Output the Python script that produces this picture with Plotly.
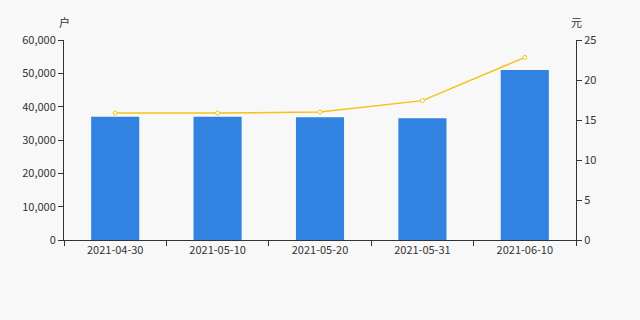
import plotly.graph_objects as go

dates = ["2021-04-30", "2021-05-10", "2021-05-20", "2021-05-31", "2021-06-10"]
holders = [37000, 36950, 36800, 36500, 51000]
price = [15.87, 15.87, 16.0, 17.42, 22.83]

bar_color = "#3282e2"
line_color = "#f5c216"
axis_color = "#333333"
bg = "#f8f8f8"
fam = "Noto Sans CJK SC"

fig = go.Figure()
fig.add_trace(go.Bar(x=dates, y=holders, marker=dict(color=bar_color, line_width=0),
                     width=0.47, yaxis="y", showlegend=False))
fig.add_trace(go.Scatter(x=dates, y=price, yaxis="y2", mode="lines+markers",
                         line=dict(color=line_color, width=1.5),
                         marker=dict(symbol="circle", size=4, color="white",
                                     line=dict(color=line_color, width=1)),
                         showlegend=False))

tf = dict(size=11, color=axis_color, family=fam)
fig.update_layout(
    width=640, height=320,
    margin=dict(l=64, r=64, t=40, b=80),
    paper_bgcolor=bg, plot_bgcolor=bg,
    font=dict(family=fam, size=11, color=axis_color),
    xaxis=dict(type="category", showline=True, linecolor=axis_color, linewidth=1,
               ticks="outside", tickson="boundaries", ticklen=5, tickcolor=axis_color,
               showgrid=False, zeroline=False, tickfont=tf),
    yaxis=dict(range=[0, 60000], dtick=10000, tickformat=",", showline=True,
               linecolor=axis_color, ticks="outside", ticklen=5, tickcolor=axis_color,
               showgrid=False, zeroline=False, tickfont=tf),
    yaxis2=dict(range=[0, 25], dtick=5, overlaying="y", side="right", showline=True,
                linecolor=axis_color, ticks="outside", ticklen=5, tickcolor=axis_color,
                showgrid=False, zeroline=False, tickfont=tf),
    annotations=[
        dict(text="户", xref="paper", yref="paper", x=0, y=1, yshift=18, xshift=0,
             showarrow=False, xanchor="center", yanchor="middle", font=tf),
        dict(text="元", xref="paper", yref="paper", x=1, y=1, yshift=18, xshift=0,
             showarrow=False, xanchor="center", yanchor="middle", font=tf),
    ],
)

fig.write_html("out.html")
